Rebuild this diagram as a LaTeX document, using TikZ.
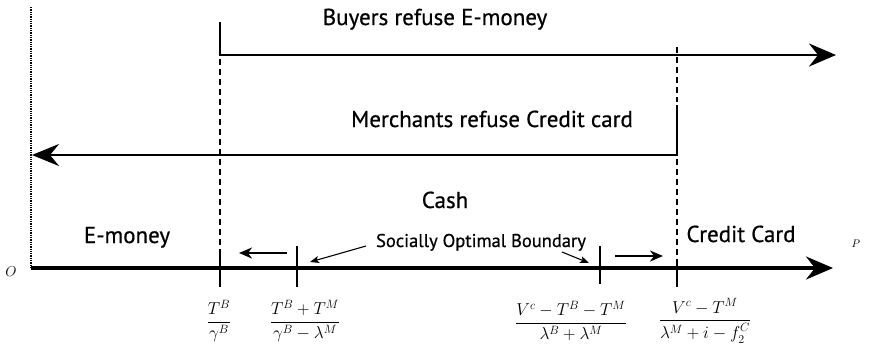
\documentclass[tikz,border=0pt]{standalone}
\usepackage{amsmath}
\usepackage{fontspec}
\setmainfont{PT Sans}[FakeBold=0.6]
\usetikzlibrary{arrows.meta}
\begin{document}
\begin{tikzpicture}[x=1pt,y=-1pt,
  bighead/.style={-{Stealth[length=27pt,width=23pt,inset=9pt]}},
  bigarrow/.style={line width=3.4pt,bighead},
  bracket/.style={line width=2.8pt},
  smallarrow/.style={line width=2.6pt,-{Stealth[length=13pt,width=11pt,inset=4pt]}},
  thinarrow/.style={line width=1.1pt,-{Stealth[length=9pt,width=7pt,inset=2pt]}},
  guide/.style={line width=1.5pt,dash pattern=on 6pt off 4pt},
  tick/.style={line width=2.2pt},
  lbl/.style={inner sep=0pt,anchor=base,font=\fontsize{23}{27}\selectfont},
  smalllbl/.style={inner sep=0pt,anchor=base,font=\fontsize{18.5}{22}\selectfont},
  frac/.style={inner sep=0pt,font=\fontsize{17}{20}\selectfont}]
\useasboundingbox (0,0) rectangle (874,357);
% coordinates
\coordinate (otop) at (31,7);
\coordinate (o) at (31,268);
\coordinate (pend) at (833,268);
\coordinate (b0) at (220,22);
\coordinate (b1) at (220,55);
\coordinate (b2) at (836,55);
\coordinate (m0) at (677,105);
\coordinate (m1) at (677,155);
\coordinate (m2) at (32,155);
\coordinate (t1top) at (220,252);
\coordinate (t1bot) at (220,287);
\coordinate (t2top) at (297,246);
\coordinate (t2bot) at (297,287);
\coordinate (t3top) at (600,246);
\coordinate (t3bot) at (600,284);
\coordinate (t4top) at (677,268);
\coordinate (t4bot) at (677,287);
% axes
\draw[line width=1.3pt,densely dotted] (otop) -- (o);
\draw[bigarrow] (o) -- (pend);
\node[inner sep=0pt,font=\fontsize{14}{16}\selectfont] (olbl) at (11,272) {$O$};
\node[inner sep=0pt,font=\fontsize{11}{13}\selectfont] (plbl) at (856,244) {$P$};
% buyers
\draw[bracket,bighead] (b0) -- (b1) -- (b2);
\draw[guide] (220,59) -- (t1top);
% merchants
\draw[bracket,-{Stealth[length=27pt,width=22pt,inset=9pt]}] (m0) -- (m1) -- (m2);
\draw[guide] (677,47) -- (677,102);
\draw[guide] (677,159) -- (t4top);
% ticks
\draw[tick] (t1top) -- (t1bot);
\draw[tick] (t2top) -- (t2bot);
\draw[tick] (t3top) -- (t3bot);
\draw[tick] (677,264) -- (t4bot);
% small arrows
\coordinate (la0) at (287,253);
\coordinate (la1) at (239,253);
\coordinate (ra0) at (615,256);
\coordinate (ra1) at (663,256);
\draw[smallarrow] (la0) -- (la1);
\draw[smallarrow] (ra0) -- (ra1);
% labels
\node[lbl] (buy) at (435,25) {Buyers refuse E-money};
\node[lbl] (mer) at (492,127) {Merchants refuse Credit card};
\node[lbl] (cash) at (445,208) {Cash};
\node[lbl] (emon) at (127,243) {E-money};
\node[lbl] (cc) at (741,242) {Credit Card};
\node[smalllbl] (sob) at (481,247) {Socially Optimal Boundary};
\draw[thinarrow] (366,246) -- (310,262);
\draw[thinarrow] (562,252) -- (589,263);
% fractions
\node[frac] (f1) at (219,321) {$\dfrac{T^B}{\gamma^B}$};
\node[frac] (f2) at (305,321) {$\dfrac{T^B+T^M}{\gamma^B-\lambda^M}$};
\node[frac] (f3) at (571,321) {$\dfrac{V^c-T^B-T^M}{\lambda^B+\lambda^M}$};
\node[frac] (f4) at (705,321) {$\dfrac{V^c-T^M}{\lambda^M+i-f^{\raisebox{1.5pt}{$\scriptstyle C$}}_{2}}$};
\end{tikzpicture}
\end{document}
